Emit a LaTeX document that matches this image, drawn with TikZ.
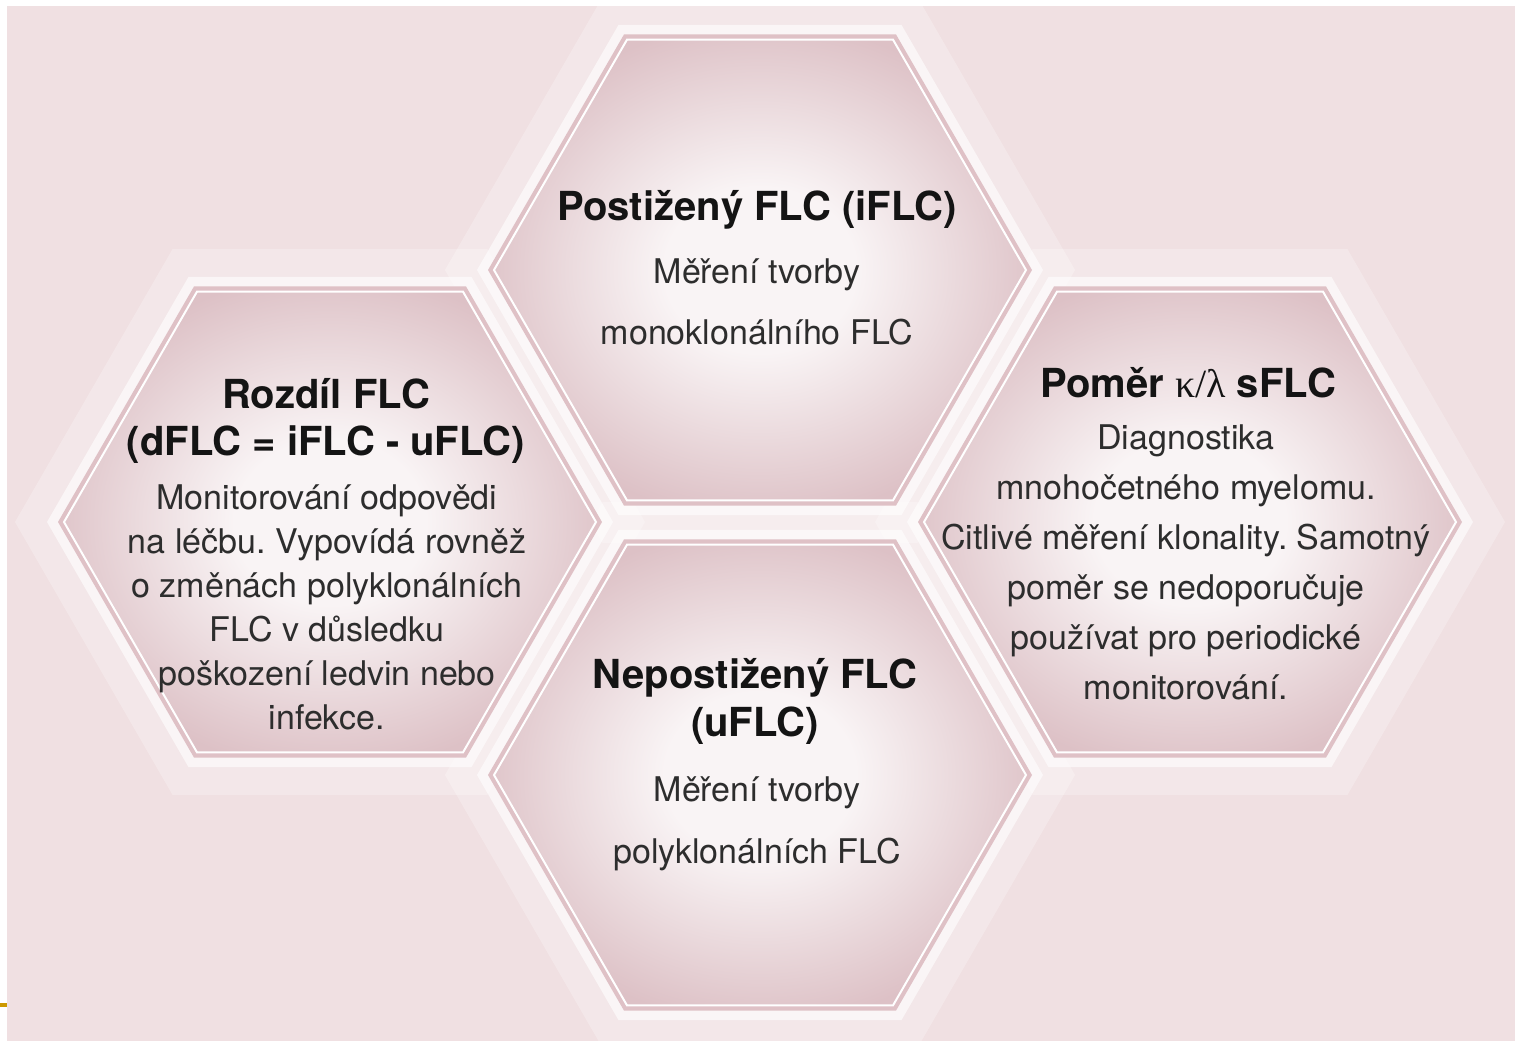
\documentclass[tikz,border=0pt]{standalone}
\usepackage{fontspec}
\setmainfont{TeX Gyre Heros}
\newfontfamily\greekserif{Liberation Serif}
\usetikzlibrary{shapes.geometric}
\frenchspacing

\definecolor{bgpink}{RGB}{240,224,226}
\definecolor{hexline}{RGB}{223,193,198}
\definecolor{hexin}{RGB}{249,244,245}
\definecolor{hexout}{RGB}{221,193,198}
\definecolor{titleink}{RGB}{20,20,20}
\definecolor{bodyink}{RGB}{45,45,45}
\definecolor{markgold}{RGB}{204,153,0}

\pgfdeclareradialshading{hexshade}{\pgfpoint{0bp}{0bp}}{color(0bp)=(hexin); color(9bp)=(hexin); color(27bp)=(hexout); color(50bp)=(hexout)}

\tikzset{
  hexbase/.style={regular polygon,regular polygon sides=6,inner sep=0pt,outer sep=0pt},
  hexhalo/.style={hexbase,minimum size=315pt,fill=white,fill opacity=0.25},
  hexband/.style={hexbase,minimum size=283pt,fill=white,fill opacity=0.6},
  hexring/.style={hexbase,minimum size=272pt,fill=hexline},
  hexcell/.style={hexbase,minimum size=266pt,shading=hexshade,draw=white,line width=1pt},
  hextitle/.style={align=center,text=titleink,font=\bfseries\fontsize{20}{24}\selectfont},
  hexbody/.style={align=center,text=bodyink,font=\fontsize{17}{22}\selectfont},
}

\begin{document}
\begin{tikzpicture}[x=0.5pt,y=-0.5pt]
  % page and background
  \useasboundingbox (0,0) rectangle (1515,1041);
  \fill[white] (0,0) rectangle (1515,1041);
  \fill[bgpink] (7,6) rectangle (1515,1041);
  \draw[markgold,line width=2pt] (0,1005) -- (7,1005);

  % glow and rim of the four cells
  \foreach \layer in {halo,band,ring}
    \foreach \cx/\cy in {760/270,760/775,330/522,1190/522}
      \node[hex\layer] at (\cx,\cy) {};

  \node[hexcell] (hexTop) at (760,270) {};
  \node[hexcell] (hexBot) at (760,775) {};
  \node[hexcell] (hexLeft) at (330,522) {};
  \node[hexcell] (hexRight) at (1190,522) {};

  % top cell
  \node[hextitle] (titleTop) at (757,210) {Postižený FLC (iFLC)};
  \node[hexbody,font=\fontsize{17}{30.5}\selectfont] (bodyTop) at (757,302) {Měření tvorby\\monoklonálního FLC};

  % left cell
  \node[hextitle,font=\bfseries\fontsize{20}{23.5}\selectfont] (titleLeft) at (326,421) {Rozdíl FLC\\(dFLC = iFLC - uFLC)};
  \node[hexbody] (bodyLeft) at (327,607) {Monitorování odpovědi\\na léčbu. Vypovídá rovněž\\o změnách polyklonálních\\FLC v důsledku\\poškození ledvin nebo\\infekce.};

  % right cell
  \node[hextitle] (titleRight) at (1188,383) {Poměr {\greekserif\mdseries κ/λ} sFLC};
  \node[hexbody,font=\fontsize{17}{25}\selectfont] (bodyRight) at (1186,562) {Diagnostika\\mnohočetného myelomu.\\Citlivé měření klonality. Samotný\\poměr se nedoporučuje\\používat pro periodické\\monitorování.};

  % bottom cell
  \node[hextitle] (titleBot) at (755,701) {Nepostižený FLC\\(uFLC)};
  \node[hexbody,font=\fontsize{17}{31}\selectfont] (bodyBot) at (757,824) {Měření tvorby\\polyklonálních FLC};
\end{tikzpicture}
\end{document}
